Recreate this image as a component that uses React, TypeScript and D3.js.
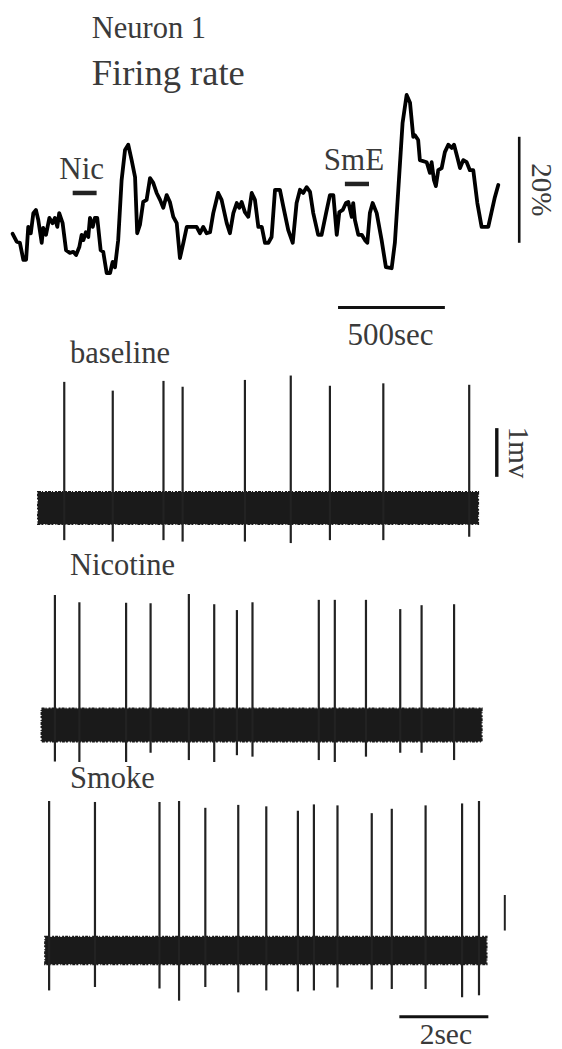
import React from "react";
import * as d3 from "d3";

// ---- Firing rate (time in s, rate change in %) ----
const rateTime = [3,22,37,53,66,76,88,100,112,123,139,146,159,175,190,201,212,221,237,253,271,287,300,315,326,334,346,357,365,378,388,399,415,427,443,459,471,482,497,513,529,544,560,576,586,599,614,630,646,661,677,693,708,724,739,755,771,786,802,818,841,864,880,895,911,927,942,965,981,1005,1020,1036,1052,1064,1075,1090,1106,1122,1137,1153,1169,1184,1200,1215,1231,1246,1254,1270,1293,1314,1332,1348,1363,1379,1395,1410,1433,1449,1470,1488,1504,1520,1532,1548,1563,1574,1590,1597,1605,1621,1637,1652,1663,1675,1688,1707,1730,1750,1777,1792,1808,1828,1847,1863,1878,1886,1901,1909,1941,1956,1964,1975,1984,1995,2011,2026,2042,2058,2069,2084,2097,2112,2128,2143,2159,2178,2198,2229,2260,2276];
const rateValue = [7.4,5.9,5.7,2.5,2.5,8.7,7.5,11.3,11.9,10.0,5.7,8.5,7.2,10.4,9.4,10.4,8.7,11.3,9.4,4.3,3.8,4.0,3.4,4.9,7.2,6.2,7.7,6.8,10.4,8.7,10.4,10.4,4.3,4.0,0,0,2.1,1.1,6.2,17.5,23.2,24.2,21.3,18.1,7.5,9.1,13.4,13.8,17.9,17.0,15.1,13.8,12.3,14.7,13.4,10.6,9.4,2.8,5.7,8.7,8.7,8.7,7.5,8.7,7.5,7.7,11.3,15.1,13.8,9.4,7.5,11.3,13.2,12.3,13.4,11.5,10.6,15.1,13.8,8.7,8.7,5.7,5.7,6.8,15.7,15.7,15.7,12.5,8.1,5.7,13.2,15.7,15.1,16.2,15.3,11.3,7.2,7.2,11.3,14.7,14.7,7.2,11.5,11.9,13.2,13.4,10.6,13.2,10.0,7.2,7.2,6.2,5.7,11.3,13.2,11.3,6.2,1.1,0.9,5.7,15.7,28.3,33.6,32.1,25.7,26.0,25.1,21.3,20.9,18.9,20.9,17.5,16.4,19.4,19.8,22.8,24.2,23.6,24.2,21.9,19.8,21.3,20.9,19.4,19.4,13.2,8.7,8.7,14.3,16.6];

// Drug application markers [start s, end s, level %]
const markerLabels = ["Nic", "SmE"];
const markerStart = [284, 1558];
const markerEnd = [396, 1671];
const markerLevel = [15.1, 16.8];

// Scale bars for the rate trace
const rateBarPercent = 20;
const rateBarFrom = 5.7;
const rateBarTime = 2374;
const timeBarSeconds = 500;
const timeBarStart = 1526;
const timeBarLevel = -6.5;

// ---- Extracellular recordings (time in s, voltage in mV) ----
const panelNames = ["baseline", "Nicotine", "Smoke"];
const bandStart = [0, 0.08, 0.16];
const bandEnd = [9.89, 9.97, 10.08];
const noiseAmp = [0.33, 0.34, 0.28];

const baselineSpikeTimes = [0.59,1.68,2.82,3.25,4.65,5.68,6.56,7.76,9.69];
const baselineSpikePeaks = [2.59,2.41,2.61,2.49,2.63,2.72,2.51,2.56,2.53];
const baselineSpikeTroughs = [-0.66,-0.69,-0.66,-0.69,-0.69,-0.72,-0.66,-0.66,-0.59];

const nicotineSpikeTimes = [0.38,0.93,1.98,2.53,3.39,3.96,4.47,4.82,6.31,6.67,7.37,8.14,8.62,9.35];
const nicotineSpikePeaks = [2.67,2.52,2.51,2.50,2.69,2.48,2.36,2.52,2.57,2.57,2.57,2.38,2.46,2.48];
const nicotineSpikeTroughs = [-0.75,-0.76,-0.76,-0.57,-0.72,-0.76,-0.62,-0.65,-0.72,-0.76,-0.65,-0.57,-0.57,-0.72];

const smokeSpikeTimes = [0.25,1.28,2.73,3.17,3.76,4.50,5.13,5.84,6.20,6.73,7.50,7.95,8.71,9.53,9.91];
const smokeSpikePeaks = [3.07,3.05,3.05,3.07,2.93,2.99,2.96,2.87,3.00,2.98,2.82,2.91,2.98,3.02,3.07];
const smokeSpikeTroughs = [-0.82,-0.75,-0.78,-1.03,-0.75,-0.86,-0.82,-0.84,-0.82,-0.76,-0.80,-0.79,-0.79,-0.96,-0.92];

const spikeTimes = [baselineSpikeTimes, nicotineSpikeTimes, smokeSpikeTimes];
const spikePeaks = [baselineSpikePeaks, nicotineSpikePeaks, smokeSpikePeaks];
const spikeTroughs = [baselineSpikeTroughs, nicotineSpikeTroughs, smokeSpikeTroughs];

// voltage scale bars
const mvBarLabel = "1mv";
const mvBarFrom = [0.64, 0.41];
const mvBarTo = [1.64, 1.14];
const mvBarTime = [10.31, 10.49];
const secBarSeconds = 2;
const secBarStart = 8.12;
const secBarLevel = -1.36;

const W = 562;
const H = 1049;
const FONT = "Liberation Serif";
const TEXT = "#3a3a3a";

export default function App() {
  const xRate = d3.scaleLinear().domain([0, 2270]).range([12, 497]);
  const yRate = d3.scaleLinear().domain([0, 20]).range([273, 167]);
  const ratePts: [number, number][] = rateTime.map((t, i) => [t, rateValue[i]]);
  const rateLine = d3
    .line<[number, number]>()
    .x((d) => xRate(d[0]))
    .y((d) => yRate(d[1]))
    .curve(d3.curveLinear);

  const xSpk = d3.scaleLinear().domain([0, 10]).range([38, 483]);
  const centers = [508, 725, 950.5];
  const ySpk = centers.map((c) => d3.scaleLinear().domain([-1, 1]).range([c + 48.7, c - 48.7]));
  const labelY = [363, 575, 788];
  const ts = { fontFamily: FONT };

  return (
    <svg
      width={W}
      height={H}
      style={{ position: "absolute", left: 0, top: 0, background: "#fff", fontFamily: FONT }}
    >
      <text style={ts} x={91.7} y={38.3} fontSize={30.5} fill={TEXT}>Neuron 1</text>
      <text style={ts} x={91.7} y={85} fontSize={36.5} fill={TEXT}>Firing rate</text>

      <path
        d={rateLine(ratePts) || ""}
        fill="none"
        stroke="#000"
        strokeWidth={3.8}
        strokeLinejoin="round"
        strokeLinecap="round"
      />

      {markerLabels.map((lab, i) => (
        <g key={lab}>
          <line
            x1={xRate(markerStart[i])}
            x2={xRate(markerEnd[i])}
            y1={yRate(markerLevel[i])}
            y2={yRate(markerLevel[i])}
            stroke="#222"
            strokeWidth={4.5}
          />
          <text
            style={ts}
            x={(xRate(markerStart[i]) + xRate(markerEnd[i])) / 2 - 3}
            y={yRate(markerLevel[i]) - 14}
            fontSize={31}
            textAnchor="middle"
            fill={TEXT}
          >
            {lab}
          </text>
        </g>
      ))}

      {/* 20% bar */}
      <line
        x1={xRate(rateBarTime)}
        x2={xRate(rateBarTime)}
        y1={yRate(rateBarFrom)}
        y2={yRate(rateBarFrom + rateBarPercent)}
        stroke="#111"
        strokeWidth={2.6}
      />
      <text
        style={ts}
        transform={`translate(${xRate(rateBarTime) + 13},${(yRate(rateBarFrom) + yRate(rateBarFrom + rateBarPercent)) / 2}) rotate(90)`}
        fontSize={29}
        textAnchor="middle"
        fill={TEXT}
      >
        {rateBarPercent}%
      </text>

      {/* 500 sec bar */}
      <line
        x1={xRate(timeBarStart)}
        x2={xRate(timeBarStart + timeBarSeconds)}
        y1={yRate(timeBarLevel)}
        y2={yRate(timeBarLevel)}
        stroke="#111"
        strokeWidth={3}
      />
      <text
        style={ts}
        x={(xRate(timeBarStart) + xRate(timeBarStart + timeBarSeconds)) / 2 - 1}
        y={yRate(timeBarLevel) + 38}
        fontSize={31}
        textAnchor="middle"
        fill={TEXT}
      >
        {timeBarSeconds}sec
      </text>

      {panelNames.map((name, p) => {
        const y = ySpk[p];
        return (
          <g key={name}>
            <text style={ts} x={70} y={labelY[p]} fontSize={30.5} fill={TEXT}>{name}</text>
            <rect
              x={xSpk(bandStart[p])}
              y={y(noiseAmp[p])}
              width={xSpk(bandEnd[p]) - xSpk(bandStart[p])}
              height={y(-noiseAmp[p]) - y(noiseAmp[p])}
              fill="#1a1a1a"
              stroke="#1a1a1a"
              strokeWidth={2}
              strokeDasharray="3 1 1 2 2 1"
            />
            {spikeTimes[p].map((t, i) => (
              <line
                key={i}
                x1={xSpk(t)}
                x2={xSpk(t)}
                y1={y(spikePeaks[p][i])}
                y2={y(spikeTroughs[p][i])}
                stroke="#222"
                strokeWidth={2.2}
              />
            ))}
          </g>
        );
      })}

      {/* 1 mV bar (baseline) */}
      <line
        x1={xSpk(mvBarTime[0])}
        x2={xSpk(mvBarTime[0])}
        y1={ySpk[0](mvBarFrom[0])}
        y2={ySpk[0](mvBarTo[0])}
        stroke="#111"
        strokeWidth={3.4}
      />
      <text
        style={ts}
        transform={`translate(${xSpk(mvBarTime[0]) + 12},${(ySpk[0](mvBarFrom[0]) + ySpk[0](mvBarTo[0])) / 2}) rotate(90)`}
        fontSize={29}
        textAnchor="middle"
        fill={TEXT}
      >
        {mvBarLabel}
      </text>

      {/* small bar (smoke) */}
      <line
        x1={xSpk(mvBarTime[1])}
        x2={xSpk(mvBarTime[1])}
        y1={ySpk[2](mvBarFrom[1])}
        y2={ySpk[2](mvBarTo[1])}
        stroke="#222"
        strokeWidth={2}
      />

      {/* 2 sec bar */}
      <line
        x1={xSpk(secBarStart)}
        x2={xSpk(secBarStart + secBarSeconds)}
        y1={ySpk[2](secBarLevel)}
        y2={ySpk[2](secBarLevel)}
        stroke="#111"
        strokeWidth={3}
      />
      <text
        style={ts}
        x={(xSpk(secBarStart) + xSpk(secBarStart + secBarSeconds)) / 2 + 2}
        y={ySpk[2](secBarLevel) + 27}
        fontSize={29.5}
        textAnchor="middle"
        fill={TEXT}
      >
        {secBarSeconds}sec
      </text>
    </svg>
  );
}
